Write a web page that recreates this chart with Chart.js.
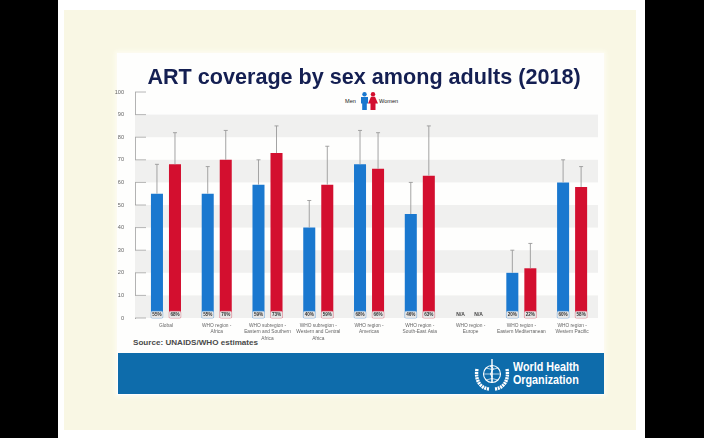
<!DOCTYPE html>
<html><head><meta charset="utf-8">
<script src="https://cdn.jsdelivr.net/npm/chart.js@4"></script>
<style>
html,body{margin:0;padding:0;background:#000;width:704px;height:438px;overflow:hidden;font-family:"Liberation Sans",Arial,sans-serif}
#wrap{position:absolute;left:0;top:0;width:704px;height:438px;filter:blur(.35px)}
.abs{position:absolute}
#slide{left:58px;top:0;width:587px;height:438px;background:#fff}
#cream{left:64px;top:10px;width:572px;height:420px;background:#f9f7e4}
#panel{left:117px;top:53px;width:487px;height:342px;background:#fefefd;box-shadow:0 0 4px 2px #fdfcf2}
#band{left:118px;top:353px;width:486px;height:41px;background:#0e6cab}
#who{left:513px;top:361px;color:#fff;font-weight:bold;font-size:12.5px;line-height:13px;white-space:nowrap;transform:scaleX(.86);transform-origin:left top}
#source{left:133px;top:338px;color:#4a4a4a;font-weight:bold;font-size:8.1px;white-space:nowrap}
canvas{position:absolute;left:0;top:0}
.lg{font-size:5.6px;color:#222;white-space:nowrap}
</style></head><body>
<div id="wrap">
<div class="abs" id="slide"></div><div class="abs" id="cream"></div><div class="abs" id="panel"></div><div class="abs" id="band"></div>
<svg class="abs" style="left:474px;top:357px" width="36" height="34" viewBox="-18 -17 36 34" fill="none" stroke="#fff">
<circle r="8.5" stroke-width="1.1"/><path d="M-8.5 0H8.5M0-8.5V8.5M-6-6Q0-3 6-6M-6 6Q0 3 6 6" stroke-width=".7"/>
<path d="M0-15V9" stroke-width="1.4"/><path d="M-2-8Q3-6 0-3T0 3" stroke-width="1"/>
<path d="M-3 15C-12 14-17 6-15-5" stroke-width="3.4" stroke-dasharray="2 .7"/><path d="M3 15C12 14 17 6 15-5" stroke-width="3.4" stroke-dasharray="2 .7"/>
</svg>
<div class="abs" id="who">World Health<br>Organization</div>
<div class="abs" id="source">Source: UNAIDS/WHO estimates</div>
<div class="abs lg" style="left:345px;top:98px">Men</div>
<svg class="abs" style="left:359.500px;top:92px" width="9" height="18" viewBox="0 0 9 18"><circle cx="4.500" cy="2.200" r="2.200" fill="#1a78cf"/><path d="M1 5h7v6.500H6.800V18H2.200v-6.500H1z" fill="#1a78cf"/></svg>
<svg class="abs" style="left:368px;top:92px" width="10" height="18" viewBox="0 0 10 18"><circle cx="5" cy="2.200" r="2.200" fill="#d30f2f"/><path d="M3 4.800h4L10 11.500H7.500V18h-5v-6.500H0z" fill="#d30f2f"/></svg>
<div class="abs lg" style="left:379px;top:98px">Women</div>
<canvas id="c" width="704" height="438" style="width:704px;height:438px"></canvas>
</div>
<script>
const categories=[["Global"],["WHO region -","Africa"],["WHO subregion -","Eastern and Southern","Africa"],["WHO subregion -","Western and Central","Africa"],["WHO region -","Americas"],["WHO region -","South-East Asia"],["WHO region -","Europe"],["WHO region -","Eastern Mediterranean"],["WHO region -","Western Pacific"]];
const menValues=[55,55,59,40,68,46,null,20,60];
const womenValues=[68,70,73,59,66,63,null,22,58];
const menUpper=[68,67,70,52,83,60,null,30,70];
const womenUpper=[82,83,85,76,82,85,null,33,67];
const yTicks=[0,10,20,30,40,50,60,70,80,90,100];
const greyBands=[[0,10],[20,30],[40,50],[60,70],[80,90]];
const toXY=a=>a.map((v,i)=>({x:i,y:v}));
const BLUE='#1a78cf',RED='#d30f2f';
const deco={id:'deco',
 beforeDatasetsDraw(ch){const {ctx,chartArea:a,scales:{y}}=ch;ctx.save();
  ctx.fillStyle='#f0f0ef';
  greyBands.forEach(([l,h])=>{const t=y.getPixelForValue(h),b=y.getPixelForValue(l);ctx.fillRect(a.left,t,a.right-a.left,b-t);});
  ctx.strokeStyle='#999';ctx.lineWidth=.7;
  yTicks.forEach(v=>{const p=y.getPixelForValue(v);ctx.beginPath();ctx.moveTo(a.left,p);ctx.lineTo(a.left+11,p);ctx.stroke();});
  ctx.restore();},
 afterDatasetsDraw(ch){const {ctx}=ch;ctx.save();
  [[0,menUpper,menValues,BLUE],[1,womenUpper,womenValues,RED]].forEach(([d,up,vals,col])=>{
   const m=ch.getDatasetMeta(d);
   vals.forEach((v,i)=>{
    const y=ch.scales.y;
    const ly=y.getPixelForValue(1.4);
    if(v===null){
     ctx.fillStyle='#444';ctx.font='bold 5px "Liberation Sans"';ctx.textAlign='center';ctx.textBaseline='middle';
     ctx.fillText('N/A',ch.scales.x.getPixelForValue(i)+(d?8:-10),ly);return;}
    const bx=m.data[i].x;
    const top=y.getPixelForValue(up[i]),base=y.getPixelForValue(v);
    ctx.strokeStyle='#9a9a9a';ctx.lineWidth=.9;
    ctx.beginPath();ctx.moveTo(bx,base);ctx.lineTo(bx,top);ctx.moveTo(bx-2,top);ctx.lineTo(bx+2,top);ctx.stroke();
    ctx.fillStyle='#e6e6e6';ctx.strokeStyle=col==BLUE?'#9fc3e4':'#e5a5ae';ctx.lineWidth=.6;
    ctx.beginPath();ctx.roundRect(bx-6,ly-3.5,12,7,1.5);ctx.fill();ctx.stroke();
    ctx.fillStyle='#333';ctx.font='bold 4.6px "Liberation Sans"';ctx.textAlign='center';ctx.textBaseline='middle';
    ctx.fillText(v+'%',bx,ly);
   });
  });
  ctx.restore();}
};
new Chart(document.getElementById('c'),{type:'bar',
 data:{datasets:[
  {label:'Men',data:toXY(menValues),backgroundColor:BLUE,categoryPercentage:.71,barPercentage:.667},
  {label:'Women',data:toXY(womenValues),backgroundColor:RED,categoryPercentage:.71,barPercentage:.667}]},
 plugins:[deco],
 options:{responsive:false,animation:false,devicePixelRatio:1,
  layout:{padding:{left:110,right:86,top:65,bottom:90}},
  plugins:{legend:{display:false},tooltip:{enabled:false},
   title:{display:true,text:'ART coverage by sex among adults (2018)',color:'#141f52',
    font:{family:'"Liberation Sans"',size:21.6,weight:'bold',lineHeight:1.2},padding:{top:0,bottom:1.100}}},
  scales:{
   x:{type:'linear',offset:false,bounds:'data',min:-.61,max:8.51,grid:{display:false},border:{display:false},
    afterFit(s){s.height=30;},
    afterBuildTicks(s){s.ticks=categories.map((_,i)=>({value:i}));},
    ticks:{autoSkip:false,maxRotation:0,padding:-4,color:'#666',
     font:{family:'"Liberation Sans"',size:4.8,lineHeight:1.35},
     callback:v=>categories[v]||''}},
   y:{min:0,max:100,grid:{display:false},border:{display:true,color:'#a0a0a0',width:.8},
    afterFit(s){s.width=25;},
    ticks:{stepSize:10,padding:3,color:'#666',font:{family:'"Liberation Sans"',size:5.600}}},
   yPad:{position:'right',min:0,max:100,grid:{display:false},border:{display:false},ticks:{display:false},
    afterFit(s){s.width=20;}}
  }}});
</script>
</body></html>
